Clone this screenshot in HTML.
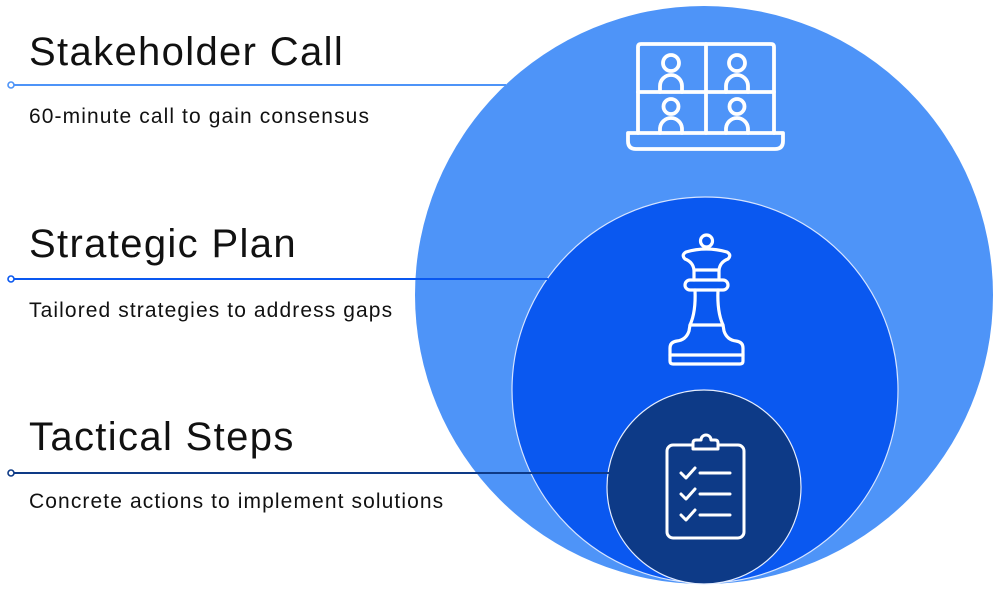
<!DOCTYPE html>
<html>
<head>
<meta charset="utf-8">
<style>
  html,body{margin:0;padding:0;background:#fff;}
  svg{display:block;}
  .t{font-family:"Liberation Sans",Arial,sans-serif;font-size:40px;letter-spacing:1.35px;fill:#111;}
  .s{font-family:"Liberation Sans",Arial,sans-serif;font-size:21px;letter-spacing:1.1px;fill:#111;}
</style>
</head>
<body>
<svg width="1000" height="589" viewBox="0 0 1000 589" xmlns="http://www.w3.org/2000/svg">
  <rect width="1000" height="589" fill="#fff"/>

  <!-- circles -->
  <circle cx="704" cy="295" r="289" fill="#4e94f8"/>
  <circle cx="705" cy="390" r="193" fill="#0a58f0" stroke="#d6e4ff" stroke-width="1.2"/>
  <circle cx="704" cy="487" r="97" fill="#0d3a87" stroke="#e6eeff" stroke-width="1.2"/>

  <!-- connector lines -->
  <line x1="11" y1="85" x2="506" y2="85" stroke="#4e94f8" stroke-width="2"/>
  <circle cx="11" cy="85" r="3" fill="#fff" stroke="#4e94f8" stroke-width="1.6"/>

  <line x1="11" y1="279" x2="548" y2="279" stroke="#0a58f0" stroke-width="2"/>
  <circle cx="11" cy="279" r="3" fill="#fff" stroke="#0a58f0" stroke-width="1.6"/>

  <line x1="11" y1="473" x2="609" y2="473" stroke="#0e3a86" stroke-width="2"/>
  <circle cx="11" cy="473" r="3" fill="#fff" stroke="#0e3a86" stroke-width="1.6"/>

  <!-- text -->
  <text class="t" x="29" y="65">Stakeholder Call</text>
  <text class="s" x="29" y="123">60-minute call to gain consensus</text>

  <text class="t" x="29" y="257">Strategic Plan</text>
  <text class="s" x="29" y="317">Tailored strategies to address gaps</text>

  <text class="t" x="29" y="450">Tactical Steps</text>
  <text class="s" x="29" y="508">Concrete actions to implement solutions</text>

  <!-- laptop icon -->
  <g fill="none" stroke="#fff" stroke-width="3.8" stroke-linejoin="round" stroke-linecap="round">
    <path d="M638,133 V47 Q638,44 641,44 H771 Q774,44 774,47 V133"/>
    <path d="M628,133 H783 V141 Q783,149 775,149 H636 Q628,149 628,141 Z"/>
    <line x1="706" y1="44" x2="706" y2="133"/>
    <line x1="638" y1="92" x2="774" y2="92"/>
    <circle cx="671" cy="63" r="8"/>
    <path d="M660,92 V86 A11,11 0 0 1 682,86 V92"/>
    <circle cx="737" cy="63" r="8"/>
    <path d="M726,92 V86 A11,11 0 0 1 748,86 V92"/>
    <circle cx="671" cy="106.5" r="7.5"/>
    <path d="M660,133 V129 A11,11 0 0 1 682,129 V133"/>
    <circle cx="737" cy="106.5" r="7.5"/>
    <path d="M726,133 V129 A11,11 0 0 1 748,129 V133"/>
  </g>

  <!-- queen icon -->
  <g fill="none" stroke="#fff" stroke-width="3.2" stroke-linejoin="round" stroke-linecap="round">
    <circle cx="706.5" cy="241" r="6"/>
    <path d="M686,252 Q706,246 727,252 Q732,255 728,259 Q720,262 719,270 L694,270 Q693,262 685,259 Q681,255 686,252 Z"/>
    <line x1="694" y1="270" x2="694" y2="280"/>
    <line x1="719" y1="270" x2="719" y2="280"/>
    <rect x="685" y="280" width="43" height="10" rx="5"/>
    <path d="M695,290 Q696,312 690,325 L723,325 Q717,312 718,290"/>
    <path d="M690,325 L689,331 Q686,340 677,341 Q670,342 670,348 L670,361 Q670,364 673,364 L740,364 Q743,364 743,361 L743,348 Q743,342 736,341 Q727,340 724,331 L723,325"/>
    <line x1="670" y1="355" x2="743" y2="355"/>
  </g>

  <!-- clipboard icon -->
  <g fill="none" stroke="#fff" stroke-width="3" stroke-linejoin="round" stroke-linecap="round">
    <rect x="667" y="445" width="77" height="93" rx="6"/>
    <path d="M693,449 V443 Q693,440 696,440 H701 A5,5 0 0 1 711,440 H715 Q718,440 718,443 V449 Z" fill="#0d3a87"/>
    <polyline points="681,473 686,478 695,468"/>
    <line x1="700" y1="473" x2="730" y2="473"/>
    <polyline points="681,494 686,499 695,489"/>
    <line x1="700" y1="494" x2="730" y2="494"/>
    <polyline points="681,515 686,520 695,510"/>
    <line x1="700" y1="515" x2="730" y2="515"/>
  </g>
</svg>
</body>
</html>
